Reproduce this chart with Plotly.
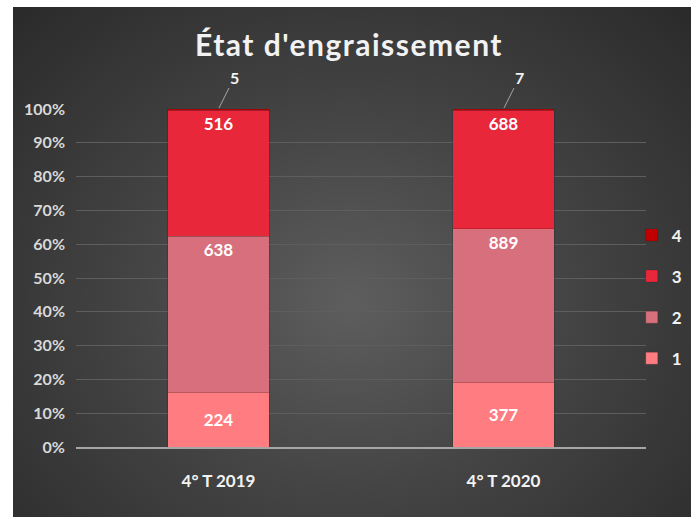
import plotly.graph_objects as go

# -------------------------------------------------
# Data
# -------------------------------------------------

categories = ["4° T 2019", "4° T 2020"]

series_names = ["1", "2", "3", "4"]
etat_1 = [224, 377]
etat_2 = [638, 889]
etat_3 = [516, 688]
etat_4 = [5, 7]

y_ticks = [0, 10, 20, 30, 40, 50, 60, 70, 80, 90, 100]
y_tick_labels = [f"{t}%" for t in y_ticks]

colors = ["#FF7C80", "#D86F7D", "#E8273A", "#C00000"]

FONT = "Lato"

# -------------------------------------------------
# Figure
# -------------------------------------------------

fig = go.Figure()

values = [etat_1, etat_2, etat_3, etat_4]
anchors = ["middle", "end", "end", "end"]

for i, name in enumerate(series_names):
    show_text = i < 3
    fig.add_trace(go.Bar(
        x=categories,
        y=values[i],
        name=name,
        legendgroup=name,
        legendrank=1000 - i,
        marker=dict(color=colors[i], line=dict(color="rgba(0,0,0,0.25)", width=0.6)),
        text=[str(v) for v in values[i]] if show_text else None,
        textposition="inside" if show_text else "none",
        insidetextanchor=anchors[i],
        textfont=dict(family=FONT, size=17, color="white", weight="bold"),
        hoverinfo="x+y+name",
    ))

# small series 4 labels with leader lines above each bar
for cat, v in zip(categories, etat_4):
    fig.add_annotation(
        x=cat, y=100, xref="x", yref="y",
        text=str(v),
        showarrow=True, arrowhead=0, arrowwidth=1, arrowcolor="#a6a6a6",
        ax=16, ay=-32, standoff=1,
        font=dict(family=FONT, size=16, color="#f2f2f2", weight="bold"),
    )

fig.update_layout(
    width=698,
    height=519,
    barmode="stack",
    barnorm="percent",
    bargap=0.645,
    paper_bgcolor="rgba(0,0,0,0)",
    plot_bgcolor="rgba(0,0,0,0)",
    margin=dict(l=76, r=52, t=109, b=72, autoexpand=False),
    title=dict(
        text="État d'engraissement",
        x=0.479, xanchor="center", xref="paper",
        y=0.913, yanchor="middle",
        font=dict(family=FONT, size=30, color="#f2f2f2", weight="bold"),
    ),
    legend=dict(
        x=0.975, xanchor="left", y=0.444, yanchor="middle",
        traceorder="grouped",
        font=dict(family=FONT, size=17, color="#f2f2f2", weight="bold"),
        bgcolor="rgba(0,0,0,0)",
        itemwidth=30,
        tracegroupgap=16,
    ),
    showlegend=True,
)

fig.update_yaxes(
    range=[0, 100],
    tickvals=y_ticks,
    ticktext=y_tick_labels,
    showgrid=True, gridcolor="#5e5e5e", gridwidth=1,
    zeroline=False,
    tickfont=dict(family=FONT, size=16, color="#d9d9d9", weight="bold"),
    ticklabelstandoff=10,
)

fig.update_xaxes(
    showline=True, linecolor="#a6a6a6", linewidth=2,
    showgrid=False,
    tickfont=dict(family=FONT, size=17, color="#f2f2f2", weight="bold"),
    ticklabelstandoff=18,
)

post = """
document.body.style.margin = '0';
var d = document.getElementById('{plot_id}');
d.style.background = 'radial-gradient(ellipse at 50% 58%, #5e5e5e 0%, #444444 45%, #2a2a2a 100%) 13px 7px / 678px 510px no-repeat, #ffffff';
var t = d.querySelector('.gtitle');
if (t) { t.style.letterSpacing = '1.5px'; }
"""

fig.write_html("out.html", post_script=post, config={"displayModeBar": False})
